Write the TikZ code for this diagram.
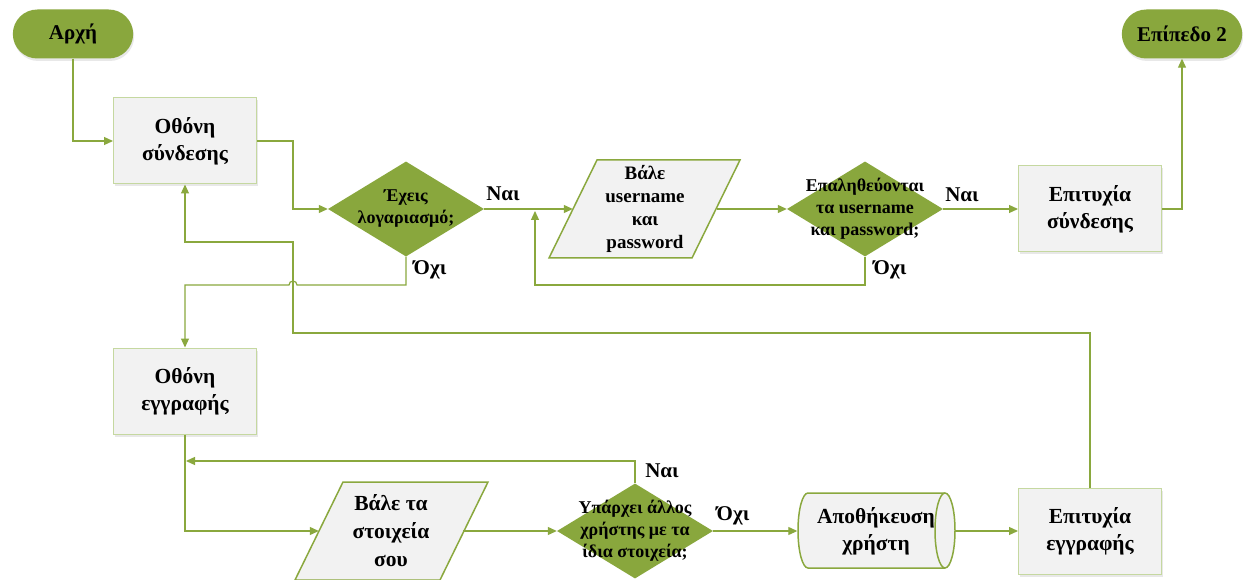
\documentclass[tikz,border=0pt]{standalone}
\usepackage{fontspec}
\setmainfont{Liberation Serif}
\usetikzlibrary{shapes.geometric,shapes.misc,arrows.meta,shadows}
\definecolor{ogreen}{HTML}{8AA83E}
\definecolor{ogfill}{HTML}{89A73D}
\definecolor{boxfill}{HTML}{F2F2F2}
\definecolor{boxline}{HTML}{C5D8A0}
\begin{document}
\begin{tikzpicture}[x=1pt,y=-1pt,
  flow/.style={draw=ogreen,line width=1.2pt},
  arr/.style={flow,-{Triangle[length=9pt,width=8pt]}},
  sh/.style={drop shadow={shadow xshift=1pt,shadow yshift=-2.5pt,opacity=0.18}},
  term/.style={rounded rectangle,fill=ogfill,draw=none,minimum width=127pt,minimum height=49pt,
    font=\fontsize{21}{24}\selectfont\bfseries,sh},
  proc/.style={rectangle,fill=boxfill,draw=boxline,line width=1pt,minimum width=143pt,minimum height=86pt,
    align=center,font=\fontsize{21.5}{27}\selectfont\bfseries,sh},
  decision/.style={diamond,aspect=1.66,fill=ogfill,draw=none,minimum width=156pt,minimum height=95pt,inner sep=0pt},
  dtext/.style={align=center,font=\fontsize{18}{22}\selectfont\bfseries},
  para/.style={fill=boxfill,draw=ogreen,line width=1.5pt,line join=miter},
  io/.style={rectangle,minimum width=144pt,minimum height=98pt,inner sep=0pt,align=center,
    font=\fontsize{19}{23}\selectfont\bfseries},
  store/.style={rectangle,minimum width=157pt,minimum height=75pt,inner sep=0pt,align=center,
    font=\fontsize{21.5}{27}\selectfont\bfseries},
  lbl/.style={font=\fontsize{21}{24}\selectfont\bfseries,inner sep=0pt}
]
\useasboundingbox[fill=white] (0,0) rectangle (1243,580);

% parallelogram outlines
\path[para] (645,209) ++(-96,49) -- ++(143,0) -- ++(48,-98) -- ++(-143,0) -- cycle;
\path[para] (391,531) ++(-96,49) -- ++(145,0) -- ++(48,-98) -- ++(-145,0) -- cycle;
% stored data (horizontal cylinder) outline
\path[para] (808,493) -- (945,493) arc[start angle=90,end angle=-90,x radius=10pt,y radius=37.5pt]
  -- (808,568) arc[start angle=270,end angle=90,x radius=10pt,y radius=37.5pt] -- cycle;
\draw[para,fill=none] (945,493) arc[start angle=90,end angle=270,x radius=10pt,y radius=37.5pt];

% nodes
\node[term] (start) at (73,34) {Αρχή};
\node[term] (stop) at (1182,34) {Επίπεδο 2};
\node[proc] (login) at (185,141) {Οθόνη\\σύνδεσης};
\node[decision] (d1) at (406,209) {};
\node[dtext] (d1t) at (406,209) {Έχεις\\λογαριασμό;};
\node[io] (p1) at (645,209) {Βάλε\\username\\και\\password};
\node[decision] (d2) at (865,209) {};
\node[dtext] (d2t) at (865,209) {Επαληθεύονται\\τα username\\και password;};
\node[proc] (lok) at (1090,209) {Επιτυχία\\σύνδεσης};
\node[proc] (reg) at (185,391) {Οθόνη\\εγγραφής};
\node[io,font=\fontsize{21.5}{28}\selectfont\bfseries] (p2) at (391,531) {Βάλε τα\\στοιχεία\\σου};
\node[decision] (d3) at (635,531) {};
\node[dtext] (d3t) at (635,531) {Υπάρχει άλλος\\χρήστης με τα\\ίδια στοιχεία;};
\node[store] (save) at (876,531) {Αποθήκευση\\χρήστη};
\node[proc] (rok) at (1090,531) {Επιτυχία\\εγγραφής};

% labels
\node[lbl] (y1) at (503,194) {Ναι};
\node[lbl] (n1) at (430,270) {Όχι};
\node[lbl] (y2) at (962,195) {Ναι};
\node[lbl] (n2) at (890,270) {Όχι};
\node[lbl] (y3) at (662,471) {Ναι};
\node[lbl] (n3) at (733,516) {Όχι};

\coordinate (loopend) at (535,211);
\coordinate (regloopend) at (186,461);

% connectors
\draw[arr] (start.south) |- (login.west);
\draw[arr] (login.east) -- (293,141) |- (d1.west);
\draw[arr] (d1.east) -- (p1.west);
\draw[arr] (p1.east) -- (d2.west);
\draw[arr] (d2.south) -- (865,285) -| (loopend);
\draw[arr] (d2.east) -- (lok.west);
\draw[arr] (lok.east) -| (stop.south);
\draw[arr] (rok.north) -- (1090,333) -- (293,333) -- (293,242) -- (185,242) -- (login.south);
\draw[arr] (d1.south) -- (406,285) -- (297,285) arc[start angle=0,end angle=180,radius=4pt] -- (185,285) -- (reg.north);
\draw[arr] (reg.south) |- (p2.west);
\draw[arr] (p2.east) -- (d3.west);
\draw[arr] (d3.north) |- (regloopend);
\draw[arr] (d3.east) -- (save.west);
\draw[arr] (save.east) -- (rok.west);
\end{tikzpicture}
\end{document}
